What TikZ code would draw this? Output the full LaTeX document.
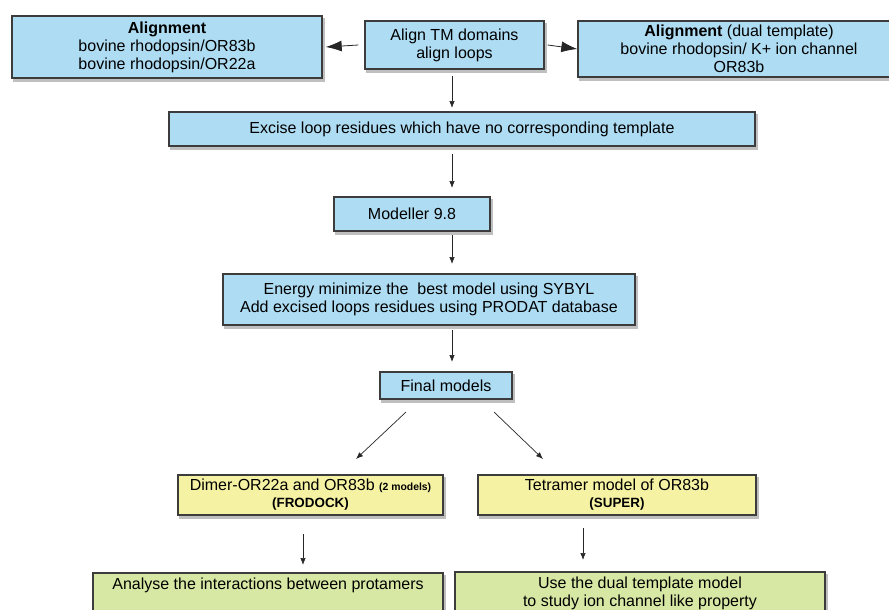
\documentclass[tikz,border=0pt]{standalone}
\usepackage{fontspec}
\setmainfont{Liberation Sans}
\usetikzlibrary{arrows.meta}
\definecolor{boxblue}{HTML}{AEDCF3}
\definecolor{boxyellow}{HTML}{F6F2A4}
\definecolor{boxgreen}{HTML}{D7E8A4}
\definecolor{boxedge}{HTML}{3C3C3C}
\begin{document}
\begin{tikzpicture}[x=1pt,y=-1pt,
  basebox/.style={draw=boxedge,line width=1.4pt,align=center,inner sep=0pt,
    font=\fontsize{16}{18}\selectfont,
    preaction={draw=black!25,line width=2pt,fill=black!25,transform canvas={xshift=2pt,yshift=-3pt}}},
  bluebox/.style={basebox,fill=boxblue},
  yellowbox/.style={basebox,fill=boxyellow},
  greenbox/.style={basebox,fill=boxgreen},
  arr/.style={-{Latex[length=7pt,width=5.5pt]},line width=0.7pt,black!85},
  bigarr/.style={-{Latex[length=16pt,width=11pt]},line width=0.8pt,black!85}]
\useasboundingbox (0,0) rectangle (889,610);
% boxes: center + size
\node[bluebox,minimum width=310pt,minimum height=62pt] (alignL) at (167,47)
  {\textbf{Alignment}\\bovine rhodopsin/OR83b\\bovine rhodopsin/OR22a};
\node[bluebox,minimum width=179pt,minimum height=48pt] (tm) at (454.5,45)
  {Align TM domains\\align loops};
\node[bluebox,minimum width=322pt,minimum height=56pt] (alignR) at (739,49)
  {\textbf{Alignment} (dual template)\\bovine rhodopsin/ K+ ion channel\\OR83b};
\node[bluebox,minimum width=586pt,minimum height=34pt] (excise) at (462,129)
  {Excise loop residues which have no corresponding template};
\node[bluebox,minimum width=156pt,minimum height=34pt] (mod) at (412,214)
  {Modeller 9.8};
\node[bluebox,minimum width=412pt,minimum height=51pt] (energy) at (429,299.5)
  {Energy minimize the\ \ best model using SYBYL\\Add excised loops residues using PRODAT database};
\node[bluebox,minimum width=132pt,minimum height=27pt] (final) at (446,385.5)
  {Final models};
\node[yellowbox,minimum width=265pt,minimum height=40pt] (dimer) at (310.5,495)
  {Dimer-OR22a and OR83b {\fontsize{10.4}{12}\selectfont\bfseries (2 models)}\\[-1pt]{\fontsize{13.4}{15}\selectfont\bfseries (FRODOCK)}};
\node[yellowbox,minimum width=278pt,minimum height=40pt] (tetra) at (617,495)
  {Tetramer model of OR83b\\[-1pt]{\fontsize{13.4}{15}\selectfont\bfseries (SUPER)}};
\node[greenbox,minimum width=350pt,minimum height=44pt] (analyse) at (268,595)
  {Analyse the interactions between protamers\\ \strut};
\node[greenbox,minimum width=370pt,minimum height=42pt] (use) at (640,593)
  {Use the dual template model\\to study ion channel like property};
% connectors
\draw[bigarr] ([xshift=-6pt]tm.west) -- ([xshift=3pt]alignL.east);
\draw[bigarr] ([xshift=3pt]tm.east) -- (alignR.west);
\coordinate (t1) at (452,76);
\coordinate (e1) at (452,108);
\draw[arr] (t1) -- (e1);
\coordinate (t2) at (452,154);
\coordinate (e2) at (452,188);
\draw[arr] (t2) -- (e2);
\coordinate (t3) at (452,235);
\coordinate (e3) at (452,264);
\draw[arr] (t3) -- (e3);
\coordinate (t4) at (452,330);
\coordinate (e4) at (452,362);
\draw[arr] (t4) -- (e4);
\coordinate (t5) at (406,412);
\coordinate (e5) at (356,459);
\draw[arr] (t5) -- (e5);
\coordinate (t6) at (494,412);
\coordinate (e6) at (543,459);
\draw[arr] (t6) -- (e6);
\coordinate (t7) at (303,534);
\coordinate (e7) at (303,565);
\draw[arr] (t7) -- (e7);
\coordinate (t8) at (583,528);
\coordinate (e8) at (583,560);
\draw[arr] (t8) -- (e8);
\end{tikzpicture}
\end{document}
